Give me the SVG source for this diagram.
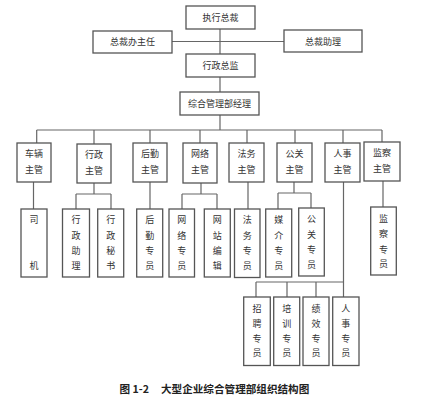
<svg xmlns="http://www.w3.org/2000/svg" width="444" height="400" viewBox="0 0 444 400">
<style>
rect{fill:#fff;stroke:#555;stroke-width:1.3}
.c path{stroke:#666;stroke-width:1.2;fill:none}
text{font-family:"Noto Sans CJK SC","Noto Sans",sans-serif;font-size:9px;fill:#333;text-anchor:middle}
.cap{font-size:10.6px;font-weight:bold;fill:#222;text-anchor:start}
</style>
<rect x="0" y="0" width="444" height="400" style="fill:#fff;stroke:none"/>
<g class="c" id="connectors">
<path d="M220,29V54M172,41.5H284M220,77V92M220,115V130M36.7,130H382"/>
<path d="M36.7,130V143M94,130V144M150,130V143M200,130V143M247,130V143M295,130V143M343,130V143M382,130V142"/>
<path d="M33.5,182V209M94,183V194M76,194H111M76,194V209M111,194V209M150,182V209"/>
<path d="M201,183V194M182,194H217M182,194V209M217,194V209M248,182V209"/>
<path d="M294,182V193M278,193H311M278,193V209M311,193V208"/>
<path d="M343.5,182V297M256,282H343.5M256,282V297M287,282V297M316,282V297M383,181V207"/>
</g>
<g id="n1"><rect x="186" y="6" width="69" height="23"/><text x="220.5" y="21">执行总裁</text></g>
<g id="n2"><rect x="93" y="31" width="79" height="22"/><text x="132.5" y="45">总裁办主任</text></g>
<g id="n3"><rect x="284" y="30" width="78" height="22"/><text x="323" y="44.5">总裁助理</text></g>
<g id="n4"><rect x="186" y="54" width="69" height="23"/><text x="220.5" y="69">行政总监</text></g>
<g id="n5"><rect x="180" y="92" width="79" height="23"/><text x="219.5" y="107">综合管理部经理</text></g>
<g id="m1"><rect x="17" y="143" width="34" height="39"/><text x="34" y="157.3">车辆</text><text x="34" y="173.3">主管</text></g>
<g id="m2"><rect x="77" y="144" width="34" height="39"/><text x="94" y="158.3">行政</text><text x="94" y="174.3">主管</text></g>
<g id="m3"><rect x="133" y="143" width="34" height="39"/><text x="150" y="157.3">后勤</text><text x="150" y="173.3">主管</text></g>
<g id="m4"><rect x="183" y="143" width="34" height="40"/><text x="200" y="157.3">网络</text><text x="200" y="173.3">主管</text></g>
<g id="m5"><rect x="229" y="143" width="35" height="39"/><text x="246.5" y="157.3">法务</text><text x="246.5" y="173.3">主管</text></g>
<g id="m6"><rect x="277" y="143" width="35" height="39"/><text x="294.5" y="157.3">公关</text><text x="294.5" y="173.3">主管</text></g>
<g id="m7"><rect x="325" y="143" width="35" height="39"/><text x="342.5" y="157.3">人事</text><text x="342.5" y="173.3">主管</text></g>
<g id="m8"><rect x="364" y="142" width="36" height="39"/><text x="382" y="156.3">监察</text><text x="382" y="172.3">主管</text></g>
<g id="s1"><rect x="21" y="209" width="26" height="68"/><text x="34" y="223.3">司</text><text x="34" y="269.3">机</text></g>
<g id="s2"><rect x="62.5" y="209" width="27" height="68"/><text x="76" y="223.3">行</text><text x="76" y="239">政</text><text x="76" y="254">助</text><text x="76" y="269">理</text></g>
<g id="s3"><rect x="97.7" y="209" width="26" height="68"/><text x="110.7" y="223.3">行</text><text x="110.7" y="239">政</text><text x="110.7" y="254">秘</text><text x="110.7" y="269">书</text></g>
<g id="s4"><rect x="136.7" y="209" width="26" height="68"/><text x="149.7" y="223.3">后</text><text x="149.7" y="239">勤</text><text x="149.7" y="254">专</text><text x="149.7" y="269">员</text></g>
<g id="s5"><rect x="169" y="209" width="25.5" height="68"/><text x="181.7" y="223.3">网</text><text x="181.7" y="239">络</text><text x="181.7" y="254">专</text><text x="181.7" y="269">员</text></g>
<g id="s6"><rect x="204.3" y="209" width="26" height="68"/><text x="217.3" y="223.3">网</text><text x="217.3" y="239">站</text><text x="217.3" y="254">编</text><text x="217.3" y="269">辑</text></g>
<g id="s7"><rect x="234.5" y="209" width="25.5" height="68.5"/><text x="247.2" y="223.3">法</text><text x="247.2" y="239">务</text><text x="247.2" y="254">专</text><text x="247.2" y="269">员</text></g>
<g id="s8"><rect x="265.7" y="209" width="26" height="68"/><text x="278.7" y="223.3">媒</text><text x="278.7" y="239">介</text><text x="278.7" y="254">专</text><text x="278.7" y="269">员</text></g>
<g id="s9"><rect x="298.7" y="208" width="25.6" height="68"/><text x="311.5" y="222.3">公</text><text x="311.5" y="238">关</text><text x="311.5" y="253">专</text><text x="311.5" y="268">员</text></g>
<g id="s10"><rect x="370.7" y="207" width="25.6" height="68"/><text x="383.5" y="222">监</text><text x="383.5" y="237.3">察</text><text x="383.5" y="252.6">专</text><text x="383.5" y="267.3">员</text></g>
<g id="h1"><rect x="243.7" y="297" width="26.6" height="68.5"/><text x="257" y="311.6">招</text><text x="257" y="326.6">聘</text><text x="257" y="342.3">专</text><text x="257" y="356">员</text></g>
<g id="h2"><rect x="273.7" y="297" width="26" height="68.5"/><text x="286.7" y="311.6">培</text><text x="286.7" y="326.6">训</text><text x="286.7" y="342.3">专</text><text x="286.7" y="356">员</text></g>
<g id="h3"><rect x="303" y="297" width="26" height="68.5"/><text x="316" y="311.6">绩</text><text x="316" y="326.6">效</text><text x="316" y="342.3">专</text><text x="316" y="356">员</text></g>
<g id="h4"><rect x="332.7" y="297" width="26.3" height="68.5"/><text x="345.8" y="311.6">人</text><text x="345.8" y="326.6">事</text><text x="345.8" y="342.3">专</text><text x="345.8" y="356">员</text></g>
<text class="cap" x="119.5" y="393.3">图 1-2<tspan x="161">大型企业综合管理部组织结构图</tspan></text>
</svg>
